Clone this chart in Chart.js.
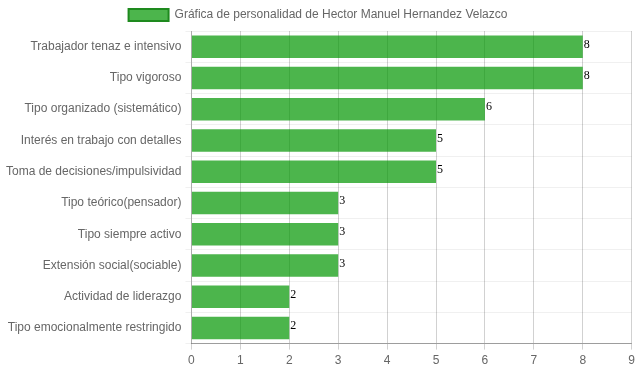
<!DOCTYPE html>
<html>
<head>
<meta charset="utf-8">
<script src="https://cdn.jsdelivr.net/npm/chart.js@4/dist/chart.umd.min.js"></script>
<style>
  html, body { margin: 0; padding: 0; background: #fff; }
  #wrap { width: 639px; height: 372px; }
</style>
</head>
<body>
<div id="wrap"><canvas id="chart"></canvas></div>
<script>
// chart data
const rasgos = [
    'Trabajador tenaz e intensivo',
    'Tipo vigoroso',
    'Tipo organizado (sistemático)',
    'Interés en trabajo con detalles',
    'Toma de decisiones/impulsividad',
    'Tipo teórico(pensador)',
    'Tipo siempre activo',
    'Extensión social(sociable)',
    'Actividad de liderazgo',
    'Tipo emocionalmente restringido'
];
const puntajes = [8, 8, 6, 5, 5, 3, 3, 3, 2, 2];
const tituloSerie = 'Gráfica de personalidad de Hector Manuel Hernandez Velazco';

// writes the value at the end of each bar
const valueLabels = {
    id: 'valueLabels',
    afterDatasetsDraw(chart) {
        const ctx = chart.ctx;
        ctx.save();
        ctx.font = '12px "Liberation Serif", "Times New Roman", serif';
        ctx.fillStyle = '#000';
        ctx.textBaseline = 'middle';
        ctx.textAlign = 'left';
        chart.getDatasetMeta(0).data.forEach((bar, i) => {
            ctx.fillText(puntajes[i], bar.x + 1, bar.y - 2);
        });
        ctx.restore();
    }
};

Chart.defaults.font.family = '"Liberation Sans", Arial, sans-serif';
Chart.defaults.font.size = 12;
Chart.defaults.color = '#666';

new Chart(document.getElementById('chart'), {
    type: 'bar',
    data: {
        labels: rasgos,
        datasets: [{
            label: tituloSerie,
            data: puntajes,
            backgroundColor: 'rgba(0, 150, 0, 0.7)',
            borderWidth: 0
        }]
    },
    options: {
        indexAxis: 'y',
        responsive: true,
        maintainAspectRatio: false,
        animation: false,
        layout: { padding: { left: 2, right: 5, top: 0, bottom: 0 } },
        plugins: {
            legend: {
                labels: {
                    boxWidth: 40,
                    boxHeight: 12,
                    padding: 9,
                    color: '#666',
                    generateLabels(chart) {
                        return [{
                            text: tituloSerie,
                            fillStyle: 'rgba(0, 150, 0, 0.7)',
                            strokeStyle: '#1e8a1e',
                            fontColor: '#666',
                            lineWidth: 2,
                            datasetIndex: 0
                        }];
                    }
                }
            },
            tooltip: { enabled: false }
        },
        scales: {
            x: {
                min: 0,
                max: 9,
                ticks: { stepSize: 1, padding: 4 },
                grid: { color: 'rgba(0,0,0,0.18)', drawTicks: true, tickLength: 6 },
                border: { color: 'rgba(0,0,0,0.35)' }
            },
            y: {
                grid: { color: 'rgba(0,0,0,0.06)', tickLength: 6 },
                border: { color: 'rgba(0,0,0,0.18)' },
                ticks: { padding: 4 }
            }
        }
    },
    plugins: [valueLabels]
});
</script>
</body>
</html>
